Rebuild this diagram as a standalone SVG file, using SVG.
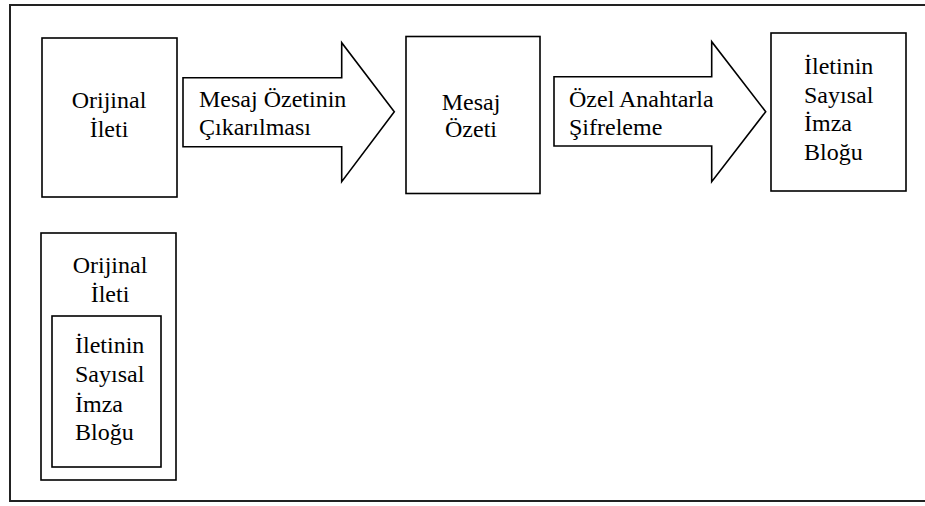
<svg xmlns="http://www.w3.org/2000/svg" width="925" height="506" viewBox="0 0 925 506">
  <style>
    .box { fill: #fff; stroke: #000; stroke-width: 1.6; }
    .frame { fill: none; stroke: #222; stroke-width: 2; }
    .arrow { fill: #fff; stroke: #000; stroke-width: 1.6; stroke-linejoin: miter; }
    text { font-family: "Liberation Serif", Tinos, "Times New Roman", Times, "Nimbus Roman", "Nimbus Roman No9 L", FreeSerif, "Noto Serif", "DejaVu Serif", Georgia, serif; font-size: 24px; fill: #000; }
    .c { text-anchor: middle; }
  </style>
  <rect width="925" height="506" fill="#fff"/>
  <!-- outer frame, right edge runs past the canvas -->
  <rect class="frame" x="10" y="5" width="930" height="496"/>

  <g id="original-message">
    <rect class="box" x="42" y="38" width="135" height="159"/>
    <text class="c" x="109" y="108">Orijinal</text>
    <text class="c" x="109" y="137">İleti</text>
  </g>

  <g id="message-digest">
    <rect class="box" x="406" y="36.5" width="134" height="157"/>
    <text class="c" x="471" y="110">Mesaj</text>
    <text class="c" x="471" y="137">Özeti</text>
  </g>

  <g id="signature-block">
    <rect class="box" x="771" y="33" width="135" height="158"/>
    <text x="804" y="74">İletinin</text>
    <text x="804" y="102.5">Sayısal</text>
    <text x="804" y="131">İmza</text>
    <text x="804" y="159.5">Bloğu</text>
  </g>

  <g id="signed-message">
    <rect class="box" x="41" y="233" width="135" height="247"/>
    <text class="c" x="110" y="273">Orijinal</text>
    <text class="c" x="110" y="302">İleti</text>
    <g id="embedded-signature">
      <rect class="box" x="52" y="316" width="109" height="151"/>
      <text x="75" y="353">İletinin</text>
      <text x="75" y="382">Sayısal</text>
      <text x="75" y="411.5">İmza</text>
      <text x="75" y="440">Bloğu</text>
    </g>
  </g>

  <g id="connectors">
    <g id="digest-step">
      <polygon class="arrow" points="183,77.7 341.7,77.7 341.7,42.7 394.3,111.7 341.7,181.7 341.7,146.7 183,146.7"/>
      <text x="199" y="106.5">Mesaj Özetinin</text>
      <text x="199" y="135">Çıkarılması</text>
    </g>
    <g id="encrypt-step">
      <polygon class="arrow" points="554,76.7 711.7,76.7 711.7,41.7 765.7,111.7 711.7,181.7 711.7,146 554,146"/>
      <text x="569" y="106.5">Özel Anahtarla</text>
      <text x="569" y="135">Şifreleme</text>
    </g>
  </g>
</svg>
